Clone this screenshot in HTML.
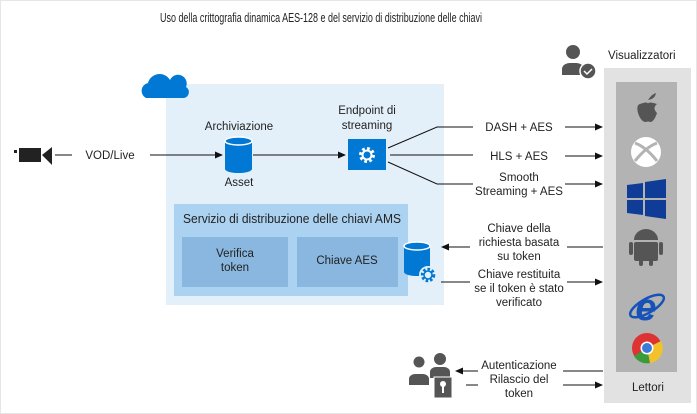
<!DOCTYPE html>
<html><head><meta charset="utf-8"><style>
body{margin:0;background:#fff}
svg{display:block;font-family:"Liberation Sans",sans-serif}
text{font-size:11.5px;fill:#222}
</style></head><body>
<svg width="697" height="414" viewBox="0 0 697 414" xmlns="http://www.w3.org/2000/svg">
<defs><marker id="a" markerWidth="8" markerHeight="8" refX="7" refY="4" orient="auto" markerUnits="userSpaceOnUse"><path d="M0,0.5 L8,4 L0,7.5z" fill="#111"/></marker></defs>
<rect x="0.5" y="0.5" width="696" height="413" fill="#fff" stroke="#e6e6e6"/>
<text x="160" y="22" textLength="322" lengthAdjust="spacingAndGlyphs" style="font-size:13px">Uso della crittografia dinamica AES-128 e del servizio di distribuzione delle chiavi</text>
<!-- main box -->
<rect x="166" y="84" width="278" height="221" fill="#e3f0fa"/>
<path d="M146,98 a8,8 0 0 1 2,-15 a12,12 0 0 1 22,-3 a8,8 0 0 1 16,7 a6,6 0 0 1 -2,11z" fill="#0078d4"/>
<rect x="174" y="204" width="234" height="92" fill="#acd2f1"/>
<text x="183" y="223" textLength="218" lengthAdjust="spacingAndGlyphs" style="font-size:12.5px">Servizio di distribuzione delle chiavi AMS</text>
<rect x="182" y="237" width="106" height="50" fill="#8ab7df"/>
<rect x="297" y="237" width="101" height="50" fill="#8ab7df"/>
<text x="235" y="257" text-anchor="middle">Verifica</text><text x="235" y="271" text-anchor="middle">token</text>
<text x="347" y="264" text-anchor="middle">Chiave AES</text>
<!-- camera -->
<rect x="14" y="150" width="3" height="3" fill="#222"/>
<rect x="19" y="148" width="22" height="14" fill="#222"/>
<path d="M42,155 L52,147 L52,165z" fill="#222"/>
<line x1="55" y1="155" x2="72" y2="155" stroke="#111"/>
<text x="110" y="159" text-anchor="middle">VOD/Live</text>
<line x1="150" y1="155" x2="222" y2="155" stroke="#111" marker-end="url(#a)"/>
<text x="239" y="130" text-anchor="middle">Archiviazione</text>
<rect x="225" y="141" width="27" height="28" fill="#0078d4"/>
<ellipse cx="238.5" cy="169" rx="13.5" ry="4" fill="#0078d4"/>
<ellipse cx="238.5" cy="141" rx="13.5" ry="4" fill="#0078d4" stroke="#fff" stroke-width="1.5"/>
<text x="239" y="186" text-anchor="middle">Asset</text>
<line x1="253" y1="155" x2="345" y2="155" stroke="#111" marker-end="url(#a)"/>
<text x="367" y="114" text-anchor="middle">Endpoint di</text><text x="367" y="129" text-anchor="middle">streaming</text>
<rect x="348" y="139" width="38" height="31" fill="#0078d4"/>
<circle cx="367" cy="155" r="6" fill="none" stroke="#fff" stroke-width="4" stroke-dasharray="2.5 2.2"/>
<circle cx="367" cy="155" r="4.5" fill="none" stroke="#fff" stroke-width="2"/>
<!-- fan lines -->
<g stroke="#111" fill="none">
<polyline points="388,148 437,127 473,127"/>
<line x1="390" y1="155" x2="473" y2="155"/>
<polyline points="388,162 437,184 473,184"/>
<line x1="565" y1="127" x2="602" y2="127" marker-end="url(#a)"/>
<line x1="565" y1="156" x2="602" y2="156" marker-end="url(#a)"/>
<line x1="565" y1="184" x2="602" y2="184" marker-end="url(#a)"/>
<line x1="603" y1="247" x2="567" y2="247"/>
<line x1="470" y1="247" x2="442" y2="247" marker-end="url(#a)"/>
<line x1="441" y1="282" x2="470" y2="282"/>
<line x1="567" y1="282" x2="602" y2="282" marker-end="url(#a)"/>
<line x1="603" y1="371" x2="563" y2="371"/>
<line x1="478" y1="371" x2="456" y2="371" marker-end="url(#a)"/>
<line x1="466" y1="385" x2="478" y2="385"/>
<line x1="563" y1="385" x2="602" y2="385" marker-end="url(#a)"/>
</g>
<text x="519" y="131" text-anchor="middle">DASH + AES</text>
<text x="519" y="160" text-anchor="middle">HLS + AES</text>
<text x="519" y="181" text-anchor="middle">Smooth</text><text x="519" y="195" text-anchor="middle">Streaming + AES</text>
<text x="519" y="232" text-anchor="middle">Chiave della</text><text x="519" y="246" text-anchor="middle">richiesta basata</text><text x="519" y="260" text-anchor="middle">su token</text>
<text x="519" y="278" text-anchor="middle">Chiave restituita</text><text x="519" y="292" text-anchor="middle">se il token è stato</text><text x="519" y="306" text-anchor="middle">verificato</text>
<text x="519" y="369" text-anchor="middle">Autenticazione</text><text x="519" y="383" text-anchor="middle">Rilascio del</text><text x="519" y="397" text-anchor="middle">token</text>
<!-- key store icon -->
<rect x="404" y="246" width="26" height="26" fill="#0078d4"/>
<ellipse cx="417" cy="272" rx="13" ry="4" fill="#0078d4"/>
<ellipse cx="417" cy="246" rx="13" ry="4" fill="#0078d4" stroke="#fff" stroke-width="1.5"/>
<circle cx="428" cy="275" r="9" fill="#e3f0fa"/>
<circle cx="428" cy="275" r="5.5" fill="none" stroke="#0078d4" stroke-width="3.5" stroke-dasharray="2.4 1.8"/>
<circle cx="428" cy="275" r="4" fill="none" stroke="#0078d4" stroke-width="1.6"/>
<!-- right panel -->
<rect x="604" y="68" width="87" height="335" fill="#e2e2e2"/>
<rect x="616" y="82" width="61" height="290" fill="#b3b3b3"/>
<text x="608" y="59">Visualizzatori</text>
<text x="648" y="391" text-anchor="middle">Lettori</text>
<!-- viewer icon -->
<circle cx="573" cy="52" r="7" fill="#555"/>
<path d="M562,75 v-6 a8,6 0 0 1 8,-6 h6 a8,6 0 0 1 8,6 v6z" fill="#555"/>
<circle cx="588" cy="71" r="8" fill="#555" stroke="#fff" stroke-width="1.5"/>
<path d="M584,71 l3,3 l5,-5" stroke="#fff" stroke-width="1.5" fill="none"/>
<!-- apple -->
<path d="M648,100 q4,-6 8,-7 q-1,6 -8,7z" fill="#555"/>
<path d="M640,104 q8,-3 8,0 q0,-3 9,0 q-5,4 0,9 q-3,9 -7,9 q-2,-1 -4,0 q-5,0 -8,-9 q-2,-8 2,-9z" fill="#555"/>
<!-- xbox -->
<circle cx="646" cy="152" r="15" fill="#fff"/>
<path d="M635,143 q11,4 22,18 M657,143 q-11,4 -22,18" stroke="#b3b3b3" stroke-width="3" fill="none"/>
<!-- windows -->
<path d="M627,185 l16,-2 v15 h-16z M645,182 l21,-3 v19 h-21z M627,200 h16 v15 l-16,-2z M645,200 h21 v19 l-21,-3z" fill="#0f3c96"/>
<!-- android -->
<path d="M634,240 a12,11 0 0 1 24,0z" fill="#555"/>
<rect x="634" y="242" width="24" height="19" rx="2" fill="#555"/>
<rect x="629" y="242" width="4" height="13" rx="2" fill="#555"/>
<rect x="659" y="242" width="4" height="13" rx="2" fill="#555"/>
<rect x="639" y="259" width="4" height="7" rx="2" fill="#555"/>
<rect x="649" y="259" width="4" height="7" rx="2" fill="#555"/>
<!-- IE -->
<text x="646" y="320" text-anchor="middle" style="font-size:38px;font-weight:bold;fill:#1752b8;font-style:italic">e</text>
<ellipse cx="647" cy="306" rx="19" ry="7" transform="rotate(-30 647 306)" fill="none" stroke="#1752b8" stroke-width="2.5"/>
<!-- chrome -->
<circle cx="647" cy="348" r="15" fill="#d33"/>
<path d="M647,348 L634,356 A15,15 0 0 0 650,363z" fill="#3a9b3a"/>
<path d="M647,348 L650,363 A15,15 0 0 0 661,341z" fill="#f2c22c"/>
<circle cx="647" cy="348" r="6.5" fill="#fff"/><circle cx="647" cy="348" r="5" fill="#3b7bd8"/>
<!-- users/key icon -->
<circle cx="419" cy="362" r="5.5" fill="#555"/>
<path d="M409,385 v-6 a6,5 0 0 1 6,-5 h8 a6,5 0 0 1 6,5 v6z" fill="#555"/>
<circle cx="440" cy="359" r="6" fill="#555"/>
<path d="M430,378 v-6 a6,5 0 0 1 6,-5 h8 a6,5 0 0 1 6,5 v6z" fill="#555"/>
<rect x="434" y="377" width="18" height="21" fill="#555" stroke="#fff"/>
<circle cx="443" cy="384" r="3" fill="#fff"/><rect x="442" y="386" width="2" height="7" fill="#fff"/>
</svg>
</body></html>
